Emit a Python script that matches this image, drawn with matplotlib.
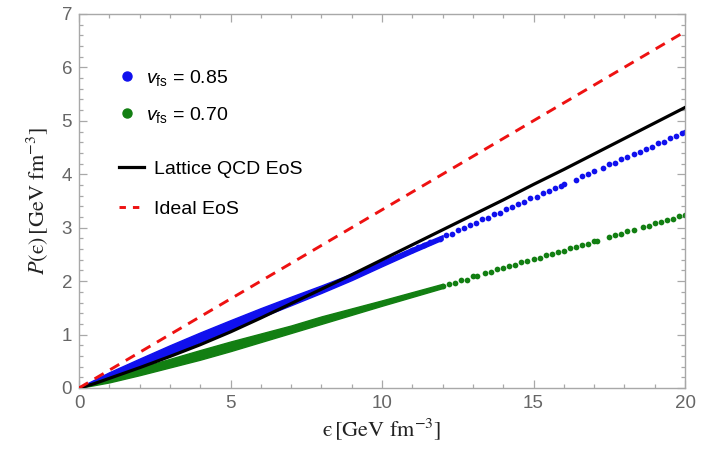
import matplotlib.pyplot as plt
import numpy as np
from matplotlib.lines import Line2D
from matplotlib.font_manager import FontProperties

# energy density grid for the smooth curves [GeV fm^-3]
lattice_eps = [0, 0.5, 1, 2, 3, 4, 5, 6, 7, 8, 9, 10, 11, 12, 13, 14, 15, 16, 17, 18, 19, 20]
lattice_p = [0, 0.08, 0.18, 0.38, 0.59, 0.81, 1.05, 1.31, 1.58, 1.85, 2.12, 2.40, 2.68, 2.96,
             3.24, 3.52, 3.81, 4.09, 4.38, 4.67, 4.96, 5.25]

ideal_eps = [0, 20]
ideal_p = [0, 6.67]

# dense part of the scattered results (lower / upper edge of the cloud)
band_eps = [0, 1, 2, 3, 4, 5, 6, 7, 8, 9, 10, 11, 12]
blue_lo = [0, 0.175, 0.39, 0.62, 0.86, 1.09, 1.325, 1.55, 1.78, 2.02, 2.28, 2.535, 2.78]
blue_hi = [0.01, 0.295, 0.55, 0.80, 1.04, 1.27, 1.495, 1.71, 1.92, 2.14, 2.38, 2.625, 2.86]
green_lo = [0, 0.105, 0.24, 0.385, 0.53, 0.69, 0.86, 1.03, 1.20, 1.37, 1.54, 1.705, 1.87]
green_hi = [0.01, 0.205, 0.38, 0.545, 0.71, 0.87, 1.02, 1.17, 1.34, 1.49, 1.64, 1.795, 1.95]

# sparse part, individual points
blue_eps = [11.0, 11.2, 11.4, 11.6, 11.9, 12.1, 12.3, 12.5, 12.7, 12.9, 13.1, 13.3, 13.5, 13.7,
            13.9, 14.1, 14.3, 14.5, 14.7, 14.9, 15.1, 15.3, 15.5, 15.7, 15.9, 16.0, 16.4, 16.6,
            16.8, 17.0, 17.3, 17.5, 17.7, 17.9, 18.1, 18.3, 18.5, 18.7, 18.9, 19.1, 19.3, 19.5,
            19.7, 19.9, 20.0]
blue_p = [2.58, 2.64, 2.67, 2.74, 2.79, 2.86, 2.89, 2.96, 2.99, 3.06, 3.09, 3.16, 3.18, 3.25,
          3.28, 3.35, 3.38, 3.45, 3.48, 3.55, 3.58, 3.65, 3.68, 3.75, 3.78, 3.82, 3.90, 3.97,
          4.00, 4.06, 4.12, 4.19, 4.22, 4.28, 4.32, 4.38, 4.41, 4.48, 4.51, 4.58, 4.61, 4.68,
          4.71, 4.77, 4.80]
green_eps = [12.0, 12.2, 12.4, 12.6, 12.8, 13.0, 13.15, 13.4, 13.6, 13.8, 14.0, 14.2, 14.4,
             14.6, 14.8, 15.0, 15.2, 15.4, 15.6, 15.8, 16.0, 16.2, 16.4, 16.6, 16.8, 17.0, 17.1,
             17.5, 17.7, 17.9, 18.1, 18.3, 18.6, 18.8, 19.0, 19.2, 19.4, 19.6, 19.8, 20.0]
green_p = [1.91, 1.95, 1.97, 2.02, 2.03, 2.09, 2.10, 2.15, 2.17, 2.22, 2.24, 2.29, 2.30,
           2.35, 2.37, 2.42, 2.44, 2.49, 2.50, 2.55, 2.57, 2.62, 2.63, 2.68, 2.70, 2.75, 2.76,
           2.82, 2.87, 2.88, 2.93, 2.95, 3.02, 3.03, 3.08, 3.10, 3.15, 3.16, 3.22, 3.24]

labels_fs = [r'$v_{\rm fs}$ = 0.85', r'$v_{\rm fs}$ = 0.70']

plt.rcParams['font.family'] = ['Liberation Sans', 'DejaVu Sans']
plt.rcParams['mathtext.fontset'] = 'custom'
plt.rcParams['mathtext.rm'] = 'Liberation Sans'
plt.rcParams['mathtext.it'] = 'Liberation Sans:italic'

frame_col = '#a8a8a8'
tick_col = '#666666'
blue = '#1010ee'
green = '#127f12'
red = '#ee1111'

fig, ax = plt.subplots(figsize=(7.01, 4.5), dpi=100)
fig.subplots_adjust(left=0.1127, right=0.9772, bottom=0.1378, top=0.9689)

# scattered points
ax.fill_between(band_eps, blue_lo, blue_hi, color=blue, lw=1.0, zorder=2)
ax.fill_between(band_eps, green_lo, green_hi, color=green, lw=1.0, zorder=2)
ax.scatter(blue_eps, blue_p, s=17, color=blue, linewidths=0, zorder=2)
ax.scatter(green_eps, green_p, s=17, color=green, linewidths=0, zorder=2)

# equations of state
ax.plot(lattice_eps, lattice_p, color='black', lw=2.3, zorder=3)
ax.plot(ideal_eps, ideal_p, color=red, lw=2.1, dashes=(3.6, 2.6), zorder=4)

ax.set_xlim(0, 20)
ax.set_ylim(0, 7)
ax.set_xticks([0, 5, 10, 15, 20])
ax.set_xticks(np.arange(0, 21, 1), minor=True)
ax.set_yticks(range(8))
ax.set_yticks(np.arange(0, 7.01, 0.2), minor=True)
ax.tick_params(which='both', direction='in', top=True, right=True,
               colors=frame_col, labelcolor=tick_col, labelsize=13.5, width=0.9)
ax.tick_params(which='major', length=5.5, pad=5)
ax.tick_params(which='minor', length=3)
for s in ax.spines.values():
    s.set_color(frame_col)
    s.set_linewidth(1.0)

ax.set_xlabel('$\\mathrm{\u03f5}\\,\\left[\\mathrm{GeV\\ fm}^{-3}\\right]$', fontsize=16,
              math_fontfamily='stix', color='#222222', labelpad=3)
ax.set_ylabel('$P(\\mathrm{\u03f5})\\,\\left[\\mathrm{GeV\\ fm}^{-3}\\right]$', fontsize=16,
              math_fontfamily='stix', color='#222222', labelpad=8)

leg_font = FontProperties(family='Liberation Sans', size=14)
dot_handles = [Line2D([], [], ls='none', marker='o', ms=6.5, color=c) for c in (blue, green)]
leg1 = ax.legend(dot_handles, labels_fs, loc='upper left', bbox_to_anchor=(0.035, 0.903),
                 frameon=False, prop=leg_font, handlelength=1.0, handletextpad=0.45,
                 labelspacing=0.9)
ax.add_artist(leg1)
line_handles = [Line2D([], [], color='black', lw=2.3),
                Line2D([], [], color=red, lw=2.1, dashes=(2.2, 2.4))]
ax.legend(line_handles, ['Lattice QCD EoS', 'Ideal EoS'], loc='upper left',
          bbox_to_anchor=(0.037, 0.655), frameon=False, prop=leg_font, handlelength=1.3,
          handletextpad=0.5, labelspacing=1.15)

fig.savefig('out.png', dpi=100)
